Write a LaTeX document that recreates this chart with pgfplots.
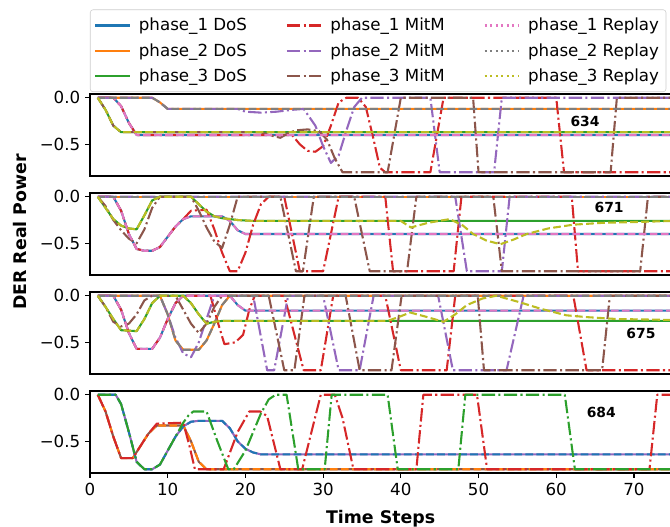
\documentclass[border=0pt]{standalone}
\usepackage{fontspec}
\setmainfont{DejaVu Sans}
\usepackage{pgfplots}
\usepackage{pgfplotstable}
\pgfplotsset{compat=1.18}

\definecolor{c1}{RGB}{31,119,180}
\definecolor{c2}{RGB}{255,127,14}
\definecolor{c3}{RGB}{44,160,44}
\definecolor{c4}{RGB}{214,39,40}
\definecolor{c5}{RGB}{148,103,189}
\definecolor{c6}{RGB}{140,86,75}
\definecolor{c7}{RGB}{227,119,194}
\definecolor{c8}{RGB}{127,127,127}
\definecolor{c9}{RGB}{188,189,34}

% ---- panel 634
\pgfplotstableread[row sep=\\]{t v\\ 1 0\\ 3 0\\ 4 -0.09\\ 5 -0.27\\ 6 -0.4\\ 75 -0.4\\}\aDa
\pgfplotstableread[row sep=\\]{t v\\ 1 0\\ 8 0\\ 9 -0.05\\ 10 -0.12\\ 75 -0.12\\}\aDb
\pgfplotstableread[row sep=\\]{t v\\ 1 0\\ 2 -0.13\\ 3 -0.3\\ 4 -0.37\\ 75 -0.37\\}\aDc
\pgfplotstableread[row sep=\\]{t v\\ 1 0\\ 3 0\\ 4 -0.09\\ 5 -0.27\\ 6 -0.4\\ 26 -0.4\\ 27 -0.5\\ 28 -0.57\\ 29 -0.58\\ 30 -0.52\\ 31 -0.3\\ 32 -0.05\\ 33 0\\ 34.5 0\\ 35.5 -0.1\\ 36.5 -0.45\\ 37.3 -0.75\\ 38 -0.8\\ 43.8 -0.8\\ 45.5 0\\ 60 0\\ 61 -0.8\\ 75 -0.8\\}\aMa
\pgfplotstableread[row sep=\\]{t v\\ 1 0\\ 8 0\\ 9 -0.05\\ 10 -0.12\\ 19 -0.12\\ 20 -0.15\\ 22 -0.16\\ 24 -0.15\\ 26 -0.13\\ 27.5 -0.12\\ 29 -0.3\\ 30 -0.52\\ 31 -0.7\\ 32 -0.62\\ 33 -0.35\\ 34 -0.1\\ 35 0\\ 43.8 0\\ 45 -0.8\\ 52 -0.8\\ 53 0\\ 75 0\\}\aMb
\pgfplotstableread[row sep=\\]{t v\\ 1 0\\ 2 -0.13\\ 3 -0.3\\ 4 -0.37\\ 22 -0.37\\ 23 -0.4\\ 24.5 -0.43\\ 25.5 -0.38\\ 26.5 -0.35\\ 28 -0.34\\ 29.5 -0.36\\ 30.5 -0.45\\ 31.5 -0.65\\ 32.5 -0.8\\ 38.3 -0.8\\ 40 0\\ 49.3 0\\ 50 -0.8\\ 67 -0.8\\ 67.8 0\\ 75 0\\}\aMc

% ---- panel 671
\pgfplotstableread[row sep=\\]{t v\\ 1 0\\ 3 0\\ 4 -0.15\\ 5 -0.4\\ 6 -0.56\\ 7 -0.58\\ 8 -0.58\\ 9 -0.54\\ 10 -0.43\\ 11 -0.32\\ 12 -0.24\\ 13 -0.21\\ 17 -0.21\\ 18 -0.26\\ 19 -0.36\\ 20 -0.4\\ 75 -0.4\\}\bDa
\pgfplotstableread[row sep=\\]{t v\\ 1 0\\ 75 0\\}\bDb
\pgfplotstableread[row sep=\\]{t v\\ 1 0\\ 2 -0.12\\ 3 -0.24\\ 4 -0.31\\ 5 -0.34\\ 6 -0.35\\ 7 -0.2\\ 8 -0.04\\ 9 0\\ 13 0\\ 14 -0.08\\ 15 -0.16\\ 16 -0.21\\ 17 -0.23\\ 19 -0.25\\ 21 -0.26\\ 75 -0.26\\}\bDc
\pgfplotstableread[row sep=\\]{t v\\ 1 0\\ 3 0\\ 4 -0.15\\ 5 -0.4\\ 6 -0.56\\ 7 -0.58\\ 8 -0.58\\ 9 -0.54\\ 10 -0.43\\ 11 -0.32\\ 12 -0.24\\ 13 -0.15\\ 15 -0.14\\ 16 -0.35\\ 17 -0.6\\ 18 -0.8\\ 19 -0.8\\ 20 -0.6\\ 21 -0.3\\ 22 -0.08\\ 23 0\\ 25 0\\ 26 -0.4\\ 27 -0.8\\ 30 -0.8\\ 31 -0.4\\ 32 0\\ 38 0\\ 39 -0.8\\ 46.8 -0.8\\ 47.8 0\\ 62 0\\ 62.8 -0.8\\ 75 -0.8\\}\bMa
\pgfplotstableread[row sep=\\]{t v\\ 1 0\\ 47 0\\ 48.5 -0.8\\ 53 -0.8\\ 54 0\\ 75 0\\}\bMb
\pgfplotstableread[row sep=\\]{t v\\ 1 0\\ 2 -0.1\\ 3 -0.25\\ 4 -0.36\\ 5 -0.45\\ 6 -0.5\\ 7 -0.35\\ 8 -0.12\\ 9 0\\ 13 0\\ 14 -0.15\\ 15 -0.33\\ 16 -0.48\\ 17 -0.55\\ 18 -0.3\\ 19 0\\ 24.5 0\\ 26.5 -0.8\\ 27.4 -0.8\\ 28.8 0\\ 34 0\\ 36 -0.8\\ 40.8 -0.8\\ 42 0\\ 51.9 0\\ 53 -0.8\\ 70.8 -0.8\\ 71.8 0\\ 75 0\\}\bMc
\pgfplotstableread[row sep=\\]{t v\\ 1 0\\ 2 -0.12\\ 3 -0.24\\ 4 -0.31\\ 5 -0.34\\ 6 -0.35\\ 7 -0.2\\ 8 -0.04\\ 9 0\\ 13 0\\ 14 -0.08\\ 15 -0.16\\ 16 -0.21\\ 17 -0.23\\ 19 -0.25\\ 21 -0.26\\ 40 -0.26\\ 41.3 -0.33\\ 43.5 -0.28\\ 46.3 -0.24\\ 48 -0.31\\ 49.3 -0.4\\ 51 -0.47\\ 52.8 -0.51\\ 54.5 -0.46\\ 56.2 -0.4\\ 59 -0.34\\ 62.2 -0.3\\ 66 -0.28\\ 70.8 -0.27\\ 75 -0.26\\}\bRc

% ---- panel 675
\pgfplotstableread[row sep=\\]{t v\\ 1 0\\ 3 0\\ 4 -0.15\\ 5 -0.4\\ 6 -0.57\\ 8 -0.57\\ 9 -0.45\\ 10 -0.25\\ 11 -0.08\\ 12 0\\ 18 0\\ 19 -0.1\\ 20 -0.16\\ 75 -0.16\\}\cDa
\pgfplotstableread[row sep=\\]{t v\\ 1 0\\ 9 0\\ 10 -0.2\\ 11 -0.48\\ 12 -0.58\\ 14 -0.58\\ 15 -0.48\\ 16 -0.3\\ 17 -0.1\\ 18 0\\ 75 0\\}\cDb
\pgfplotstableread[row sep=\\]{t v\\ 1 0\\ 2 -0.12\\ 3 -0.25\\ 4 -0.37\\ 6 -0.38\\ 7 -0.25\\ 8 -0.08\\ 9 0\\ 12 0\\ 13 -0.08\\ 14 -0.2\\ 15 -0.3\\ 16 -0.28\\ 17 -0.27\\ 75 -0.27\\}\cDc
\pgfplotstableread[row sep=\\]{t v\\ 1 0\\ 3 0\\ 4 -0.15\\ 5 -0.4\\ 6 -0.57\\ 8 -0.57\\ 9 -0.45\\ 10 -0.25\\ 11 -0.08\\ 12 0\\ 15.5 0\\ 16.5 -0.3\\ 17.3 -0.52\\ 18.7 -0.5\\ 19.7 -0.42\\ 20.5 -0.15\\ 21.2 0\\ 25 0\\ 27.5 -0.8\\ 29.7 -0.8\\ 31.3 0\\ 38 0\\ 40 -0.8\\ 45.9 -0.8\\ 47 0\\ 62.2 0\\ 63.9 -0.8\\ 75 -0.8\\}\cMa
\pgfplotstableread[row sep=\\]{t v\\ 1 0\\ 9 0\\ 10 -0.2\\ 11 -0.45\\ 12 -0.62\\ 13 -0.66\\ 14 -0.5\\ 15 -0.25\\ 16 0\\ 21 0\\ 22.8 -0.8\\ 23.7 -0.8\\ 25.5 0\\ 30 0\\ 32 -0.8\\ 34.7 -0.8\\ 36.5 0\\ 44.8 0\\ 46.7 -0.8\\ 53.6 -0.8\\ 55.8 0\\ 75 0\\}\cMb
\pgfplotstableread[row sep=\\]{t v\\ 1 0\\ 2 -0.12\\ 3 -0.28\\ 4 -0.33\\ 5 -0.3\\ 6 -0.2\\ 7 -0.05\\ 8 0\\ 11 0\\ 12 -0.15\\ 13 -0.3\\ 14 -0.4\\ 15 -0.3\\ 16 -0.12\\ 17 0\\ 23 0\\ 25 -0.8\\ 26.3 -0.8\\ 27.6 0\\ 32.9 0\\ 34.7 -0.8\\ 38.8 -0.8\\ 40.1 0\\ 49.9 0\\ 50.7 -0.8\\ 65.9 -0.8\\ 66.9 0\\ 75 0\\}\cMc
\pgfplotstableread[row sep=\\]{t v\\ 1 0\\ 2 -0.12\\ 3 -0.25\\ 4 -0.37\\ 6 -0.38\\ 7 -0.25\\ 8 -0.08\\ 9 0\\ 12 0\\ 13 -0.08\\ 14 -0.2\\ 15 -0.3\\ 16 -0.28\\ 17 -0.27\\ 38.3 -0.27\\ 40 -0.22\\ 41.2 -0.18\\ 43 -0.22\\ 45.5 -0.28\\ 47 -0.2\\ 48.5 -0.1\\ 50.5 -0.03\\ 52.3 0\\ 55.3 -0.07\\ 58 -0.14\\ 61.3 -0.21\\ 64 -0.23\\ 67.8 -0.25\\ 75 -0.26\\}\cRc

% ---- panel 684
\pgfplotstableread[row sep=\\]{t v\\ 1 0\\ 2 -0.18\\ 3 -0.45\\ 4 -0.68\\ 5.5 -0.68\\ 6.5 -0.55\\ 7.5 -0.42\\ 8.6 -0.33\\ 12 -0.33\\ 13 -0.5\\ 14 -0.72\\ 15 -0.8\\ 75 -0.8\\}\dSa
\pgfplotstableread[row sep=\\]{t v\\ 1 0\\ 3.3 0\\ 4 -0.1\\ 5 -0.4\\ 6 -0.72\\ 7 -0.8\\ 8 -0.8\\ 9 -0.75\\ 10 -0.6\\ 11 -0.45\\ 12 -0.34\\ 13 -0.29\\ 14 -0.28\\ 17 -0.28\\ 18 -0.36\\ 19 -0.5\\ 20 -0.58\\ 21 -0.62\\ 22 -0.64\\ 75 -0.64\\}\dSb
\pgfplotstableread[row sep=\\]{t v\\ 1 0\\ 2 -0.18\\ 3 -0.45\\ 4 -0.68\\ 5.5 -0.68\\ 6.5 -0.55\\ 7.5 -0.42\\ 8.6 -0.31\\ 12 -0.3\\ 12.8 -0.55\\ 13.5 -0.8\\ 17.2 -0.8\\ 19 -0.4\\ 20.5 -0.18\\ 21.9 -0.18\\ 22.8 -0.23\\ 24.5 -0.8\\ 27.3 -0.8\\ 28.5 -0.4\\ 29.7 0\\ 31.5 0\\ 32.5 -0.25\\ 33.9 -0.8\\ 42 -0.8\\ 42.9 0\\ 49.8 0\\ 51.1 -0.8\\ 72 -0.8\\ 73 0\\ 75 0\\}\dR
\pgfplotstableread[row sep=\\]{t v\\ 1 0\\ 3.3 0\\ 4 -0.1\\ 5 -0.4\\ 6 -0.72\\ 7 -0.8\\ 8 -0.8\\ 9 -0.75\\ 10 -0.6\\ 11 -0.45\\ 12 -0.3\\ 12.7 -0.22\\ 13.3 -0.18\\ 15 -0.18\\ 16.4 -0.5\\ 17.8 -0.8\\ 18.5 -0.8\\ 20 -0.6\\ 21 -0.4\\ 22 -0.2\\ 23 -0.05\\ 23.9 0\\ 25.3 0\\ 26.8 -0.8\\ 30.2 -0.8\\ 31.1 0\\ 38.3 0\\ 39.6 -0.8\\ 47.4 -0.8\\ 48.3 0\\ 61.1 0\\ 62.4 -0.8\\ 75 -0.8\\}\dG

\tikzset{
  dos/.style={solid},
  mitm/.style={dash pattern=on 9.6pt off 2.4pt on 1.5pt off 2.4pt},
  rep/.style={dash pattern=on 5.55pt off 2.4pt},
  repleg/.style={dash pattern=on 1.5pt off 2.475pt},
  lab/.style={font=\bfseries\fontsize{10}{12}\selectfont},
}
\pgfplotsset{
  panel/.style={
    scale only axis, width=418.5pt, height=59.04pt,
    anchor=north west,
    xmin=0, xmax=74.8, ymin=-0.84, ymax=0.04,
    ytick={-0.5,0}, yticklabels={−0.5,0.0},
    tick pos=left, tick align=outside, major tick length=3.5pt,
    tick style={black, line width=0.8pt},
    axis line style={black, line width=0.8pt},
    tick label style={font=\fontsize{12}{14}\selectfont},
    /pgf/number format/assume math mode=true,
    no markers,
    every axis plot/.append style={line width=1.5pt, line join=round},
  },
}

\begin{document}
\begin{tikzpicture}
\path[use as bounding box] (0,0) rectangle (482.4pt,-379.44pt);

% panel 634 (with legend)
\begin{axis}[panel, at={(64.8pt,-67.68pt)}, xtick=\empty,
  legend columns=3, legend cell align=left,
  legend image code/.code={\draw[#1, line width=1.5pt] (0pt,0pt) -- (24.5pt,0pt);},
  legend style={at={(0,1)}, anchor=south west, yshift=1.4pt,
    draw=black!20, rounded corners=2pt, fill=white,
    font=\fontsize{12}{14}\selectfont, inner xsep=3pt, inner ysep=4pt,
    row sep=3.6pt,
    column sep=4pt, /tikz/every even column/.append style={column sep=26pt}}]
\addlegendimage{c1,dos}
\addlegendimage{c4,mitm}
\addlegendimage{c7,repleg}
\addlegendimage{c2,dos}
\addlegendimage{c5,mitm}
\addlegendimage{c8,repleg}
\addlegendimage{c3,dos}
\addlegendimage{c6,mitm}
\addlegendimage{c9,repleg}
\addplot[c1,dos] table[x=t,y=v]{\aDa};
\addplot[c2,dos] table[x=t,y=v]{\aDb};
\addplot[c3,dos] table[x=t,y=v]{\aDc};
\addplot[c4,mitm] table[x=t,y=v]{\aMa};
\addplot[c5,mitm] table[x=t,y=v]{\aMb};
\addplot[c6,mitm] table[x=t,y=v]{\aMc};
\addplot[c7,rep] table[x=t,y=v]{\aDa};
\addplot[c8,rep] table[x=t,y=v]{\aDb};
\addplot[c9,rep] table[x=t,y=v]{\aDc};
\node[lab] at (axis cs:63.7,-0.25) {634};
\legend{phase\_1 DoS,phase\_1 MitM,phase\_1 Replay,phase\_2 DoS,phase\_2 MitM,phase\_2 Replay,phase\_3 DoS,phase\_3 MitM,phase\_3 Replay}
\end{axis}

% panel 671
\begin{axis}[panel, at={(64.8pt,-138.96pt)}, xtick=\empty]
\addplot[c1,dos] table[x=t,y=v]{\bDa};
\addplot[c2,dos] table[x=t,y=v]{\bDb};
\addplot[c3,dos] table[x=t,y=v]{\bDc};
\addplot[c4,mitm] table[x=t,y=v]{\bMa};
\addplot[c5,mitm] table[x=t,y=v]{\bMb};
\addplot[c6,mitm] table[x=t,y=v]{\bMc};
\addplot[c7,rep] table[x=t,y=v]{\bDa};
\addplot[c8,rep] table[x=t,y=v]{\bDb};
\addplot[c9,rep] table[x=t,y=v]{\bRc};
\node[lab] at (axis cs:66.8,-0.11) {671};
\end{axis}

% panel 675
\begin{axis}[panel, at={(64.8pt,-210.24pt)}, xtick=\empty]
\addplot[c1,dos] table[x=t,y=v]{\cDa};
\addplot[c2,dos] table[x=t,y=v]{\cDb};
\addplot[c3,dos] table[x=t,y=v]{\cDc};
\addplot[c4,mitm] table[x=t,y=v]{\cMa};
\addplot[c5,mitm] table[x=t,y=v]{\cMb};
\addplot[c6,mitm] table[x=t,y=v]{\cMc};
\addplot[c7,rep] table[x=t,y=v]{\cDa};
\addplot[c8,rep] table[x=t,y=v]{\cDb};
\addplot[c9,rep] table[x=t,y=v]{\cRc};
\node[lab] at (axis cs:70.9,-0.40) {675};
\end{axis}

% panel 684
\begin{axis}[panel, at={(64.8pt,-281.52pt)}, xtick={0,10,...,70},
  xlabel={Time Steps}, xlabel style={font=\bfseries\fontsize{12.5}{15}\selectfont, yshift=-4pt}]
\addplot[c6,dos] table[x=t,y=v]{\dSa};
\addplot[c5,dos] table[x=t,y=v]{\dSb};
\addplot[c2,rep] table[x=t,y=v]{\dSa};
\addplot[c1,rep] table[x=t,y=v]{\dSb};
\addplot[c4,mitm] table[x=t,y=v]{\dR};
\addplot[c3,mitm] table[x=t,y=v]{\dG};
\node[lab] at (axis cs:65.8,-0.19) {684};
\end{axis}

\node[rotate=90, font=\bfseries\fontsize{12.5}{15}\selectfont] at (14.4pt,-167pt) {DER Real Power};
\end{tikzpicture}
\end{document}
